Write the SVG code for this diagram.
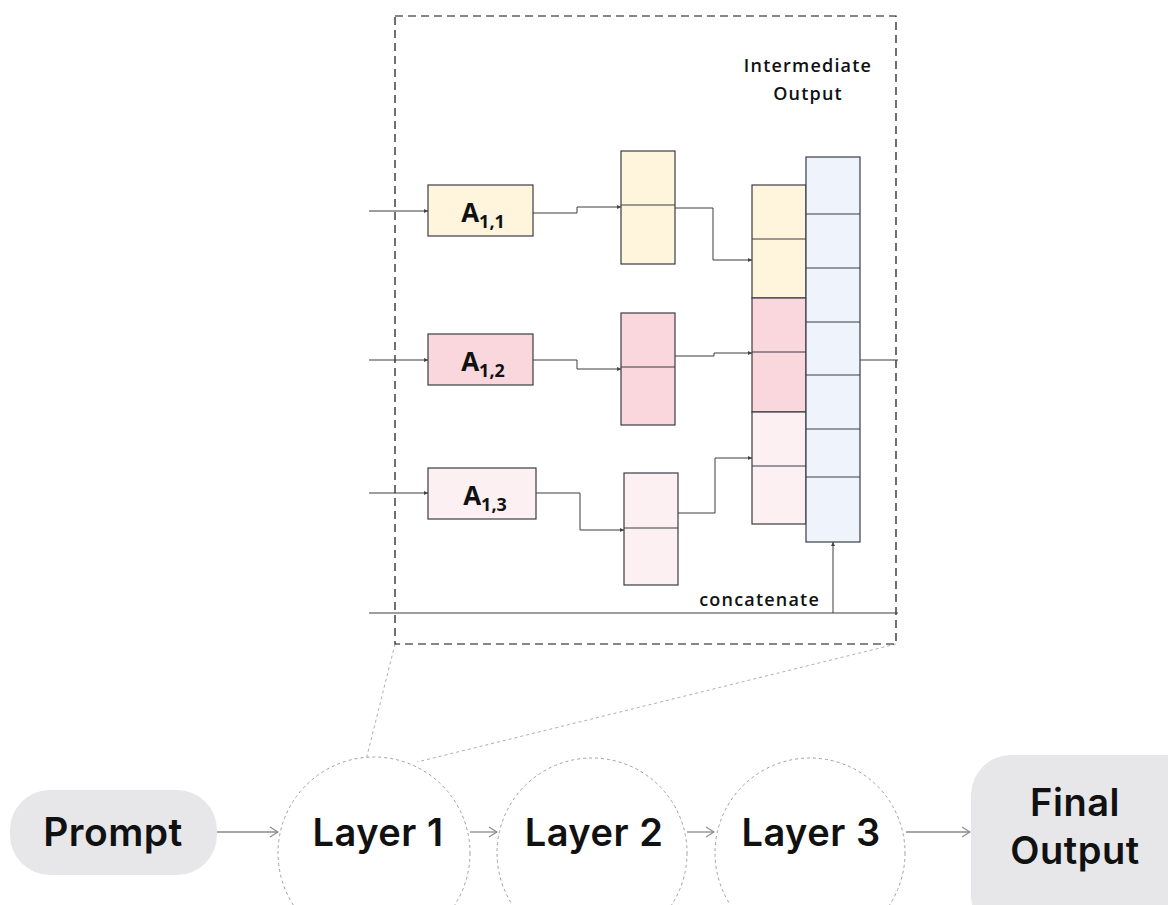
<svg xmlns="http://www.w3.org/2000/svg" width="1168" height="905" viewBox="0 0 1168 905">
<defs>
<marker id="sa" viewBox="0 0 6 6" refX="6" refY="3" markerWidth="4" markerHeight="4" orient="auto" markerUnits="userSpaceOnUse"><path d="M0,0 L6,3 L0,6 z" fill="#444"/></marker>
<marker id="oa" viewBox="0 0 10 12" refX="9" refY="6" markerWidth="10" markerHeight="12" orient="auto" markerUnits="userSpaceOnUse"><path d="M1,1 L9,6 L1,11" fill="none" stroke="#8a8a8a" stroke-width="1.2"/></marker>
</defs>
<style>
.cell{stroke:#3a3d44;stroke-width:1.2}
.y{fill:#fff5dc}.p{fill:#fad7dc}.lp{fill:#fcf0f3}.b{fill:#eef3fc}
.w{fill:none;stroke:#3a3d44;stroke-width:1}
.lbl{font-family:"Open Sans",sans-serif;font-weight:700;fill:#111}
.sm{font-family:"Open Sans",sans-serif;font-weight:600;font-size:18px;letter-spacing:1.2px;fill:#111}
.big{font-family:"Inter","Noto Sans",sans-serif;font-weight:600;fill:#111;letter-spacing:0.5px}
.circ{fill:#fff;stroke:#a0a0a0;stroke-width:1;stroke-dasharray:3,3}
.pill{fill:#e7e7e9}
.flow{fill:none;stroke:#8a8a8a;stroke-width:1.3}
</style>

<!-- zoom guide lines -->
<g id="guides">
<line x1="395" y1="644" x2="366" y2="760" stroke="#b0b0b0" stroke-width="1" stroke-dasharray="3,3"/>
<line x1="896" y1="644" x2="417" y2="762" stroke="#b0b0b0" stroke-width="1" stroke-dasharray="3,3"/>
</g>

<g id="detail-box">
<rect x="395" y="16" width="501" height="628" fill="none" stroke="#111" stroke-width="1.2" stroke-dasharray="8,5"/>
<text class="sm" x="808" y="72" text-anchor="middle">Intermediate</text>
<text class="sm" x="808" y="100" text-anchor="middle">Output</text>
</g>

<g id="connectors">
<path class="w" d="M369,211 H428" marker-end="url(#sa)"/>
<path class="w" d="M369,360 H428" marker-end="url(#sa)"/>
<path class="w" d="M369,493 H428" marker-end="url(#sa)"/>
<path class="w" d="M533,213 H577 V207 H621" marker-end="url(#sa)"/>
<path class="w" d="M533,360 H577 V369 H621" marker-end="url(#sa)"/>
<path class="w" d="M536,493 H580 V530 H624" marker-end="url(#sa)"/>
<path class="w" d="M675,208 H713 V260 H752" marker-end="url(#sa)"/>
<path class="w" d="M675,356 H714 V353 H752" marker-end="url(#sa)"/>
<path class="w" d="M678,513 H715 V458 H752" marker-end="url(#sa)"/>
<path class="w" d="M860,360 H898"/>
<path class="w" d="M369,613 H898"/>
<path class="w" d="M833,613 V542" marker-end="url(#sa)"/>
<path class="flow" d="M217,832 H278" marker-end="url(#oa)"/>
<path class="flow" d="M470,832 H497" marker-end="url(#oa)"/>
<path class="flow" d="M687,832 H714" marker-end="url(#oa)"/>
<path class="flow" d="M906,832 H970" marker-end="url(#oa)"/>
</g>

<g id="A11">
<rect class="cell y" x="428" y="185" width="105" height="51"/>
<text class="lbl" x="483" y="222" text-anchor="middle" font-size="26">A<tspan font-size="18" dy="6">1,1</tspan></text>
</g>
<g id="A12">
<rect class="cell p" x="428" y="334" width="105" height="51"/>
<text class="lbl" x="483" y="371" text-anchor="middle" font-size="26">A<tspan font-size="18" dy="6">1,2</tspan></text>
</g>
<g id="A13">
<rect class="cell lp" x="428" y="468" width="108" height="51"/>
<text class="lbl" x="485" y="505" text-anchor="middle" font-size="26">A<tspan font-size="18" dy="6">1,3</tspan></text>
</g>

<g id="out1">
<rect class="cell y" x="621" y="151" width="54" height="113"/>
<line class="cell" x1="621" y1="205" x2="675" y2="205"/>
</g>
<g id="out2">
<rect class="cell p" x="621" y="313" width="54" height="112"/>
<line class="cell" x1="621" y1="367" x2="675" y2="367"/>
</g>
<g id="out3">
<rect class="cell lp" x="624" y="473" width="54" height="112"/>
<line class="cell" x1="624" y1="528" x2="678" y2="528"/>
</g>

<g id="concat-col">
<rect class="cell y" x="752" y="185" width="54" height="113"/>
<line class="cell" x1="752" y1="239" x2="806" y2="239"/>
<rect class="cell p" x="752" y="298" width="54" height="114"/>
<line class="cell" x1="752" y1="352" x2="806" y2="352"/>
<rect class="cell lp" x="752" y="412" width="54" height="112"/>
<line class="cell" x1="752" y1="466" x2="806" y2="466"/>
</g>

<g id="blue-col">
<rect class="cell b" x="806" y="157" width="54" height="385"/>
<line class="cell" x1="806" y1="214" x2="860" y2="214"/>
<line class="cell" x1="806" y1="268" x2="860" y2="268"/>
<line class="cell" x1="806" y1="322" x2="860" y2="322"/>
<line class="cell" x1="806" y1="375" x2="860" y2="375"/>
<line class="cell" x1="806" y1="429" x2="860" y2="429"/>
<line class="cell" x1="806" y1="477" x2="860" y2="477"/>
</g>

<g id="concat-label">
<text class="sm" x="820" y="606" text-anchor="end">concatenate</text>
</g>

<g id="prompt">
<rect class="pill" x="10" y="790" width="207" height="85" rx="40"/>
<text class="big" x="113" y="846" text-anchor="middle" font-size="39">Prompt</text>
</g>
<g id="layer1">
<circle class="circ" cx="374" cy="853" r="96"/>
<text class="big" x="378" y="846" text-anchor="middle" font-size="38">Layer 1</text>
</g>
<g id="layer2">
<circle class="circ" cx="592" cy="853" r="95"/>
<text class="big" x="594" y="846" text-anchor="middle" font-size="38">Layer 2</text>
</g>
<g id="layer3">
<circle class="circ" cx="810" cy="853" r="95"/>
<text class="big" x="811" y="846" text-anchor="middle" font-size="38">Layer 3</text>
</g>
<g id="final">
<rect class="pill" x="971" y="755" width="240" height="180" rx="40"/>
<text class="big" x="1075" y="816" text-anchor="middle" font-size="38">Final</text>
<text class="big" x="1075" y="864" text-anchor="middle" font-size="38">Output</text>
</g>
</svg>
